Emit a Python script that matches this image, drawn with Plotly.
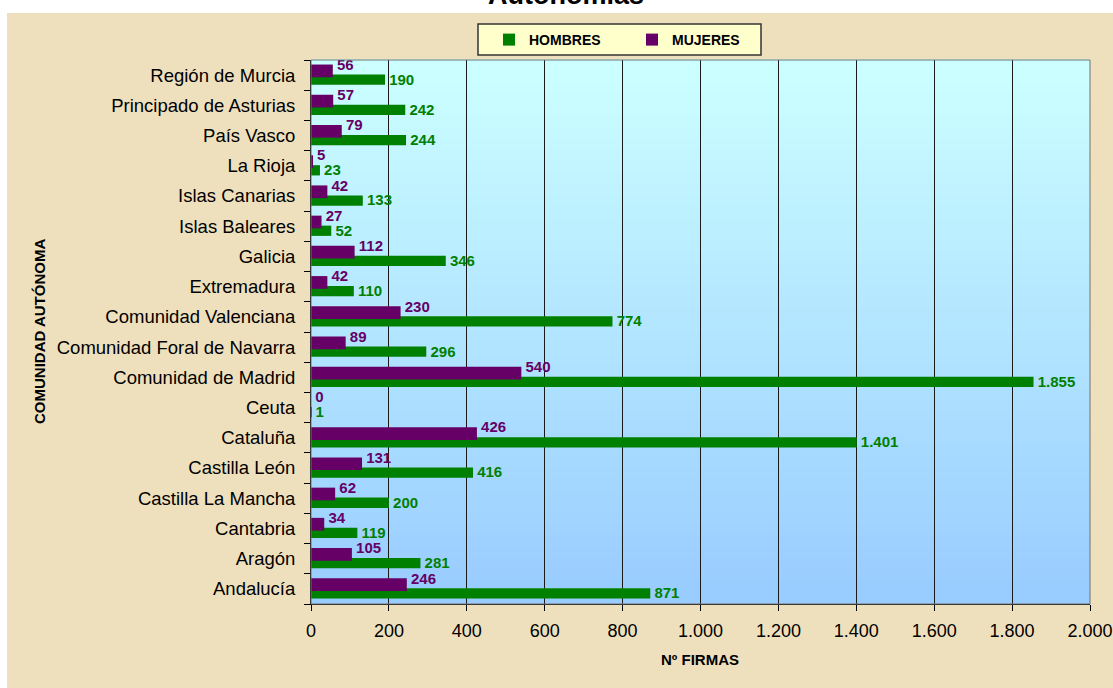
import plotly.graph_objects as go

categories = ["Andalucía", "Aragón", "Cantabria", "Castilla La Mancha", "Castilla León",
              "Cataluña", "Ceuta", "Comunidad de Madrid", "Comunidad Foral de Navarra",
              "Comunidad Valenciana", "Extremadura", "Galicia", "Islas Baleares",
              "Islas Canarias", "La Rioja", "País Vasco", "Principado de Asturias",
              "Región de Murcia"]
hombres = [871, 281, 119, 200, 416, 1401, 1, 1855, 296, 774, 110, 346, 52, 133, 23, 244, 242, 190]
mujeres = [246, 105, 34, 62, 131, 426, 0, 540, 89, 230, 42, 112, 27, 42, 5, 79, 57, 56]
x_ticks = [0, 200, 400, 600, 800, 1000, 1200, 1400, 1600, 1800, 2000]


def fmt(v):
    return f"{v:,}".replace(",", ".")


W, H = 1113, 688
L, R, T, B = 311, 1090, 60, 604
pw, ph = R - L, B - T


def px(x):
    return (x - L) / pw


def py(y):
    return (B - y) / ph


GREEN = "#008000"
PURPLE = "#660066"

# bar geometry (category units)
H_OFF, H_W = -0.32, 0.34
M_OFF, M_W = -0.07, 0.42
H_LABEL_DY, M_LABEL_DY = -0.19, 0.30

idx = list(range(len(categories)))
NB = "\u00a0"

fig = go.Figure()
fig.add_trace(go.Bar(
    y=categories, x=hombres, name="HOMBRES", orientation="h",
    marker=dict(color=GREEN, line=dict(width=0)),
    width=H_W, offset=H_OFF, hoverinfo="x+y",
))
fig.add_trace(go.Bar(
    y=categories, x=mujeres, name="MUJERES", orientation="h",
    marker=dict(color=PURPLE, line=dict(width=0)),
    width=M_W, offset=M_OFF, hoverinfo="x+y",
))
# value labels
fig.add_trace(go.Scatter(
    x=hombres, y=[i + H_LABEL_DY for i in idx], yaxis="y2", mode="text",
    text=[NB + fmt(v) for v in hombres], textposition="middle right",
    textfont=dict(family="Arial", size=15, color=GREEN, weight="bold"),
    showlegend=False, hoverinfo="skip", cliponaxis=False,
))
fig.add_trace(go.Scatter(
    x=mujeres, y=[i + M_LABEL_DY for i in idx], yaxis="y2", mode="text",
    text=[NB + fmt(v) for v in mujeres], textposition="middle right",
    textfont=dict(family="Arial", size=15, color=PURPLE, weight="bold"),
    showlegend=False, hoverinfo="skip", cliponaxis=False,
))

shapes = []
# parchment background
shapes.append(dict(type="rect", xref="paper", yref="paper", layer="below",
                   x0=px(7), x1=px(W + 5), y0=py(H + 5), y1=py(13),
                   fillcolor="#efe0bd", line=dict(width=0)))
# gradient plot background
n = 48
c0 = (204, 255, 255)
c1 = (153, 204, 255)
for i in range(n):
    t = i / (n - 1)
    col = tuple(round(c0[k] + (c1[k] - c0[k]) * t) for k in range(3))
    shapes.append(dict(type="rect", xref="paper", yref="paper", layer="below",
                       x0=0, x1=1, y0=1 - (i + 1) / n, y1=1 - i / n + 0.002,
                       fillcolor="rgb(%d,%d,%d)" % col, line=dict(width=0)))
# plot border
shapes.append(dict(type="rect", xref="paper", yref="paper", layer="above",
                   x0=0, x1=1, y0=0, y1=1, line=dict(color="#707070", width=1)))
# legend box
shapes.append(dict(type="rect", xref="paper", yref="paper", layer="above",
                   x0=px(478), x1=px(761), y0=py(55), y1=py(24),
                   fillcolor="#ffffcc", line=dict(color="#333333", width=1.5)))

fig.update_layout(
    width=W, height=H,
    margin=dict(l=L, r=W - R, t=T, b=H - B, autoexpand=False),
    paper_bgcolor="white",
    plot_bgcolor="rgba(0,0,0,0)",
    barmode="overlay",
    separators=",.",
    font=dict(family="Arial", color="black"),
    shapes=shapes,
    showlegend=True,
    legend=dict(orientation="h", x=px(489), xanchor="left", y=py(24), yanchor="top",
                bgcolor="rgba(0,0,0,0)", borderwidth=0,
                font=dict(family="Arial", size=14, color="black", weight="bold"),
                entrywidth=98, entrywidthmode="pixels", itemwidth=30,
                traceorder="normal"),
    xaxis=dict(range=[0, 2000], tickvals=x_ticks, ticktext=[fmt(v) for v in x_ticks],
               showgrid=True, gridcolor="#1a1a1a", gridwidth=1, zeroline=False,
               showline=True, linecolor="black", linewidth=1,
               ticks="outside", ticklen=6, tickcolor="black",
               tickfont=dict(family="Arial", size=18, color="black"),
               ticklabelstandoff=4, fixedrange=True, automargin=False),
    yaxis=dict(type="category", categoryorder="array", categoryarray=categories,
               range=[-0.5, len(categories) - 0.5],
               showgrid=False, zeroline=False,
               showline=True, linecolor="black", linewidth=1,
               ticks="outside", ticklen=6, tickcolor="black", tickson="boundaries",
               tickfont=dict(family="Arial", size=18.5, color="black"),
               ticklabelstandoff=11, fixedrange=True, automargin=False),
    yaxis2=dict(overlaying="y", range=[-0.5, len(categories) - 0.5], visible=False,
                fixedrange=True, automargin=False),
    annotations=[
        dict(text="Autonomías", xref="paper", yref="paper", x=px(566), y=py(-5),
             xanchor="center", yanchor="middle", showarrow=False,
             font=dict(family="Arial", size=27, color="black", weight="bold")),
        dict(text="Nº FIRMAS", xref="paper", yref="paper", x=px(700), y=py(659),
             xanchor="center", yanchor="middle", showarrow=False,
             font=dict(family="Arial", size=15, color="black", weight="bold")),
        dict(text="COMUNIDAD AUTÓNOMA", xref="paper", yref="paper", x=px(39), y=py(332),
             xanchor="center", yanchor="middle", showarrow=False, textangle=-90,
             font=dict(family="Arial", size=15, color="black", weight="bold")),
    ],
)

fig.write_html("out.html",
               config={"displayModeBar": False},
               post_script="document.body.style.margin='0px';"
                           "document.body.style.overflow='hidden';")
